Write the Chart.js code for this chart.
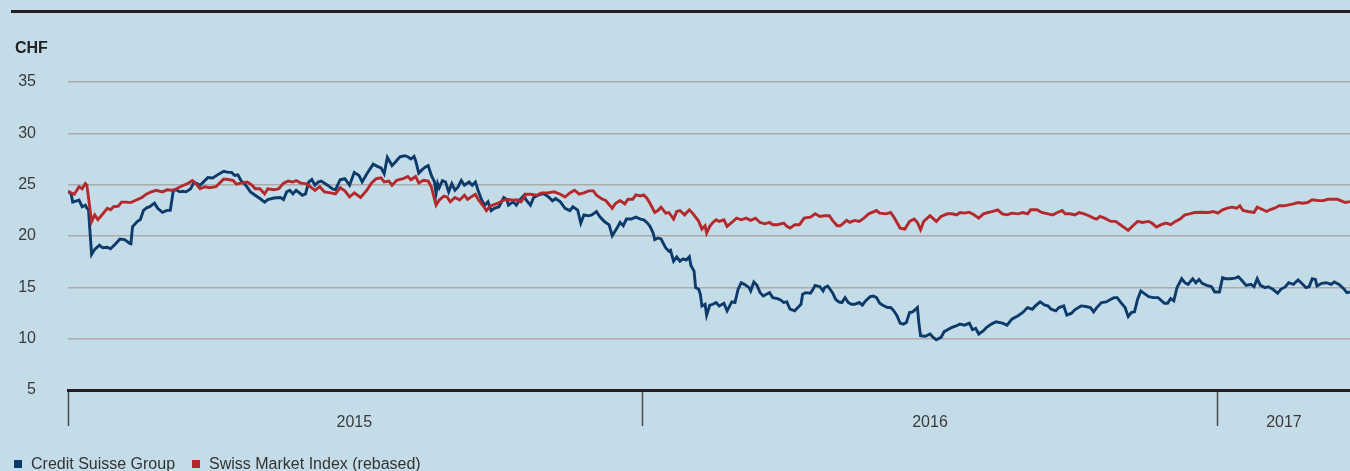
<!DOCTYPE html>
<html>
<head>
<meta charset="utf-8">
<script src="https://cdn.jsdelivr.net/npm/chart.js@4.4.1/dist/chart.umd.min.js"></script>
<style>
  html, body { margin: 0; padding: 0; background: #c4dce8; overflow: hidden; }
  #wrap { position: relative; width: 1350px; height: 471px; font-family: "Liberation Sans", Arial, sans-serif; color: #333; }
  #rule { position: absolute; left: 11px; right: 0; top: 10px; height: 3px; background: #231f20; }
  #unit { position: absolute; left: 15px; top: 40px; font-size: 16px; line-height: 16px; font-weight: bold; color: #222; }
  #box { position: absolute; left: 0; top: 0; width: 1350px; height: 471px; }
  #legend { position: absolute; left: 14px; top: 456px; display: flex; font-size: 16px; line-height: 16px; color: #333; }
  .item { display: flex; align-items: center; margin-right: 17px; }
  .swatch { width: 8px; height: 8px; margin-right: 9px; }
</style>
</head>
<body>
<div id="wrap">
  <div id="rule"></div>
  <div id="box"><canvas id="chart"></canvas></div>
  <div id="unit">CHF</div>
  <div id="legend"></div>
</div>
<script>
// ---------------------------------------------------------------
//  Share price: Credit Suisse vs SMI (rebased), Jan 2015 - Mar 2017
//  x values are days since 1 January 2015
// ---------------------------------------------------------------

const seriesNames = ['Credit Suisse Group', 'Swiss Market Index (rebased)'];
const seriesColors = ['#0c3b6b', '#b3292c'];

const yearLabels = ['2015', '2016', '2017'];
const yearStarts = [0, 365, 731];
const yearMids = [182, 548, 773];
const lastDay = 815;

const yTicks = [5, 10, 15, 20, 25, 30, 35];

const csDays = [
  0, 2, 3, 7, 9, 11, 12, 13, 15, 17,
  20, 22, 25, 27, 30, 33, 36, 39, 40, 41,
  44, 46, 48, 50, 52, 55, 57, 60, 63, 65,
  67, 69, 71, 73, 75, 78, 80, 82, 84, 86,
  89, 92, 96, 99, 102, 104, 106, 108, 110, 113,
  116, 119, 122, 125, 127, 131, 135, 137, 139, 141,
  143, 145, 149, 151, 153, 155, 157, 159, 161, 165,
  168, 170,
  173, 176, 179, 182, 185, 187, 190, 194, 197, 199,
  201, 203, 206, 208, 211, 214, 216, 218, 220, 221,
  223, 225, 227, 229, 231, 233, 234, 235, 236, 238,
  240, 242, 244, 246, 248, 250, 252, 255, 257, 259,
  261, 263, 265, 267, 269, 271, 274, 277, 279, 280,
  283, 285, 287, 290, 291, 294, 296, 299, 302, 305,
  308, 310, 313, 316, 319, 321, 324, 326, 328, 331,
  333, 336, 338, 341, 344, 346, 349,
  351, 353, 355, 358, 361, 364, 366, 368, 370, 372,
  373, 375, 377, 380, 382, 383, 385, 387, 389, 391,
  393, 395, 396, 398, 399, 401, 402, 403, 405, 406,
  408, 410, 412, 414, 417, 419, 422, 424, 426, 428,
  430, 433, 434, 436, 438, 440, 442, 444, 446, 448,
  451, 453, 455, 457, 459, 462, 464, 466, 467, 469,
  472, 473, 475, 478, 480, 481, 483, 486, 488, 490,
  492, 494, 496, 498, 500, 503, 505, 507, 510, 512,
  514, 516, 518, 521, 523, 525, 527,
  529, 531, 533, 535, 537, 540, 541, 542, 545, 548,
  550, 552, 555, 557, 560, 562, 565, 567, 570, 573,
  575, 577, 579, 582, 584, 587, 590, 594, 597, 600,
  604, 607, 610, 613, 615, 618, 621, 623, 625, 628,
  630, 633, 635, 638, 640, 644, 647, 650, 652, 654,
  657, 660, 663, 665, 667, 669, 672, 674, 676, 678,
  680, 682, 685, 687, 690, 693, 697, 699, 701, 703,
  705, 708, 710, 712, 715, 717, 719, 721, 724, 727,
  729, 732, 734, 736, 739, 742, 744, 746, 749, 752,
  754, 756, 758, 761, 763, 766, 769, 771, 774, 776,
  779, 782, 784, 787, 789, 791, 793, 794, 797, 800,
  803, 805, 808, 811, 813, 815
];
const csPrice = [
  24.36, 24.1, 23.3, 23.5, 22.85, 23.0, 22.7, 22.6, 18.2, 18.7,
  19.1, 18.85, 18.9, 18.75, 19.2, 19.7, 19.65, 19.3, 19.25, 20.9,
  21.4, 21.6, 22.5, 22.75, 22.85, 23.2, 22.7, 22.3, 22.5, 22.5,
  24.45, 24.5, 24.3, 24.35, 24.3, 24.6, 25.25, 25.1, 24.95, 25.25,
  25.7, 25.65, 26.05, 26.3, 26.2, 26.2, 25.9, 25.95, 25.4, 24.95,
  24.3, 23.97, 23.65, 23.3, 23.55, 23.7, 23.75, 23.55, 24.3, 24.45,
  24.1, 24.45, 23.97, 24.1, 25.25, 25.5, 24.95, 25.25, 25.35, 24.95,
  24.6, 24.5,
  25.48, 25.58, 24.94, 26.2, 25.9, 25.26, 26.06, 27.0, 26.76, 26.63,
  26.06, 27.66, 26.86, 27.18, 27.72, 27.82, 27.72, 27.5, 27.76, 27.34,
  26.12, 26.44, 26.7, 26.86, 25.9, 25.26, 24.13, 25.1, 24.7, 25.4,
  25.26, 24.3, 25.1, 24.46, 24.78, 25.42, 24.94, 25.26, 24.94, 25.26,
  24.3, 23.5, 23.0, 23.33, 22.47, 22.7, 22.85, 23.75, 23.56, 23.0,
  23.33, 23.0, 23.5, 23.97, 23.56, 23.0, 23.75, 23.97, 24.13, 23.88,
  23.43, 23.65, 23.33, 22.7, 22.47, 22.85, 22.53, 21.25, 22.05, 21.96,
  22.05, 22.37, 21.89, 21.41, 21.09, 20.03, 20.77,
  21.32, 21.0, 21.65, 21.65, 21.84, 21.65, 21.58, 21.32, 20.94, 20.29,
  19.65, 19.81, 19.71, 18.84, 18.52, 18.61, 17.55, 17.97, 17.55, 17.77,
  17.65, 17.97, 17.13, 16.58, 14.97, 14.81, 14.32, 13.19, 13.35, 12.29,
  13.26, 13.35, 13.52, 13.19, 13.45, 12.71, 13.58, 13.52, 14.81, 15.45,
  15.29, 14.97, 14.65, 15.52, 15.19, 14.48, 14.16, 14.32, 14.48, 14.0,
  13.9, 13.77, 13.52, 13.58, 12.87, 12.71, 13.03, 13.35, 14.32, 14.48,
  14.42, 14.65, 15.19, 15.06, 14.65, 14.97, 15.13, 14.48, 13.84, 13.58,
  13.52, 14.0, 13.52, 13.35, 13.35, 13.52, 13.26, 13.68, 14.1, 14.16,
  14.0, 13.45, 13.26, 13.03, 13.03, 12.71, 12.23,
  11.52, 11.42, 11.58, 12.55, 12.61, 13.03, 11.42, 10.29, 10.23, 10.45,
  10.13, 9.9, 10.13, 10.68, 10.94, 11.1, 11.26, 11.42, 11.32, 11.52,
  10.87, 11.0, 10.45, 10.77, 11.1, 11.42, 11.65, 11.52, 11.32, 11.9,
  12.23, 12.55, 13.03, 12.87, 13.19, 13.58, 13.26, 13.19, 12.87, 12.71,
  13.03, 13.19, 12.29, 12.48, 12.81, 13.19, 13.13, 13.03, 12.61, 13.03,
  13.52, 13.58, 13.84, 14.0, 14.0, 13.58, 13.03, 12.16, 12.55, 12.61,
  13.84, 14.65, 14.32, 14.1, 14.0, 14.0, 13.45, 13.45, 13.9, 13.68,
  14.97, 15.84, 15.45, 15.29, 15.84, 15.45, 15.77, 15.39, 15.19, 15.06,
  14.55, 14.55, 15.94, 15.84, 15.84, 15.9, 16.03, 15.71, 15.19, 15.29,
  15.06, 15.84, 15.19, 14.97, 15.06, 14.81, 14.42, 14.81, 15.06, 15.45,
  15.29, 15.71, 15.45, 14.97, 15.06, 15.84, 15.77, 15.13, 15.39, 15.45,
  15.29, 15.52, 15.29, 14.87, 14.48, 14.55
];

const smiDays = [
  0, 2, 4, 7, 9, 11, 12, 15, 17, 19,
  21, 25, 27, 29, 32, 34, 37, 40, 44, 47,
  50, 53, 56, 60, 63, 66, 69, 72, 76, 79,
  81, 84, 87, 90, 94, 97, 99, 102, 105, 107,
  110, 114, 117, 119, 122, 125, 127, 131, 134, 137,
  140, 143, 145, 148, 151, 154, 157, 160, 163, 167,
  170,
  173, 176, 179, 182, 186, 190, 193, 196, 199, 201,
  204, 206, 209, 213, 216, 218, 221, 223, 226, 229,
  231, 233, 234, 236, 239, 241, 243, 246, 249, 252,
  254, 257, 259, 261, 264, 266, 268, 270, 273, 277,
  280, 283, 286, 288, 291, 294, 298, 301, 305, 309,
  313, 316, 319, 322, 325, 328, 331, 334, 336, 339,
  342, 346, 348,
  351, 354, 356, 359, 361, 364, 366, 368, 370, 373,
  375, 377, 380, 382, 385, 387, 389, 392, 395, 397,
  399, 401, 403, 405, 406, 408, 410, 412, 414, 417,
  419, 422, 425, 428, 431, 434, 437, 440, 443, 446,
  448, 451, 455, 457, 459, 462, 465, 468, 472, 475,
  478, 481, 484, 486, 489, 491, 495, 497, 500, 503,
  506, 509, 514, 516, 520, 523, 525,
  529, 532, 535, 538, 540, 542, 544, 548, 552, 555,
  559, 562, 565, 567, 570, 573, 576, 579, 582, 585,
  588, 591, 594, 597, 600, 604, 607, 610, 612, 616,
  619, 623, 626, 629, 632, 634, 637, 640, 643, 646,
  649, 652, 654, 656, 659, 663, 666, 669, 672, 674,
  677, 680, 683, 687, 689, 692, 695, 698, 701, 704,
  707, 710, 713, 716, 721, 725, 728, 731, 734, 737,
  740, 743, 745, 747, 750, 754, 756, 759, 762, 764,
  767, 770, 773, 776, 779, 782, 785, 788, 791, 795,
  798, 801, 804, 807, 809, 812, 815
];
const smiLevel = [
  24.36, 24.2, 24.07, 24.8, 24.6, 25.1, 24.95, 21.4, 22.05, 21.6,
  21.95, 22.7, 22.55, 22.85, 22.9, 23.3, 23.3, 23.25, 23.55, 23.75,
  24.1, 24.3, 24.45, 24.3, 24.5, 24.45, 24.6, 24.85, 25.1, 25.4,
  25.15, 24.6, 24.8, 24.7, 24.8, 25.25, 25.55, 25.5, 25.4, 25.05,
  25.15, 25.25, 24.95, 24.6, 24.6, 24.1, 24.6, 24.5, 24.6, 25.15,
  25.35, 25.25, 25.4, 25.15, 25.1, 24.8, 24.45, 24.8, 24.3, 24.2,
  24.1,
  24.7, 24.4, 23.8, 24.2, 23.75, 24.46, 25.16, 25.58, 25.67, 25.26,
  25.35, 24.94, 25.42, 25.58, 25.8, 25.48, 25.8, 25.16, 25.42, 25.35,
  24.78, 23.56, 23.0, 23.5, 23.88, 23.8, 23.33, 23.75, 23.5, 23.97,
  23.56, 23.88, 24.07, 23.5, 22.92, 22.47, 22.85, 23.0, 23.17, 23.5,
  23.56, 23.5, 23.5, 23.33, 24.07, 24.07, 23.97, 24.2, 24.2, 24.3,
  24.07, 23.8, 24.2, 24.46, 24.07, 24.2, 24.4, 24.4, 23.97, 23.65,
  23.43, 22.7, 23.17,
  23.45, 23.13, 23.58, 23.58, 24.0, 23.9, 24.0, 23.68, 23.19, 22.29,
  22.48, 22.81, 22.23, 22.29, 21.65, 22.39, 22.48, 22.06, 22.55, 22.23,
  21.84, 21.42, 20.68, 21.0, 20.29, 20.94, 21.32, 21.58, 21.42, 21.58,
  20.94, 21.32, 21.74, 21.58, 21.74, 21.52, 21.74, 21.32, 21.19, 21.32,
  21.1, 21.1, 21.26, 20.94, 20.77, 21.1, 21.1, 21.74, 21.84, 22.16,
  21.9, 21.97, 21.97, 21.52, 21.0, 21.0, 21.52, 21.32, 21.52, 21.42,
  21.74, 22.16, 22.48, 22.23, 22.16, 22.29, 21.84,
  20.77, 20.68, 21.42, 21.65, 21.32, 20.61, 21.42, 21.97, 21.42, 21.9,
  22.16, 22.16, 22.06, 22.29, 22.23, 22.32, 22.06, 21.74, 22.16, 22.29,
  22.39, 22.55, 22.16, 22.06, 22.23, 22.16, 22.29, 22.16, 22.55, 22.55,
  22.29, 22.16, 22.06, 22.29, 22.48, 22.16, 22.16, 22.06, 22.29, 22.16,
  21.97, 21.74, 21.65, 21.9, 21.74, 21.42, 21.42, 21.1, 20.77, 20.55,
  21.0, 21.42, 21.32, 21.42, 21.26, 20.87, 21.1, 21.26, 21.1, 21.42,
  21.65, 22.06, 22.16, 22.29, 22.32, 22.29, 22.39, 22.23, 22.55, 22.71,
  22.81, 22.71, 22.94, 22.48, 22.39, 22.29, 22.81, 22.61, 22.39, 22.55,
  22.71, 22.94, 22.94, 23.03, 23.13, 23.26, 23.19, 23.26, 23.52, 23.45,
  23.45, 23.58, 23.58, 23.58, 23.45, 23.26, 23.35
];

// -----------------------------
// Legend (html)
// -----------------------------
const legend = document.getElementById('legend');
seriesNames.forEach((name, i) => {
  const item = document.createElement('span');
  item.className = 'item';
  item.innerHTML = `<span class="swatch" style="background:${seriesColors[i]}"></span>${name}`;
  legend.appendChild(item);
});

// -----------------------------
// Chart
// -----------------------------
const toPoints = (days, vals) => days.map((d, i) => ({x: d, y: vals[i]}));
const tickDays = [...yearStarts, ...yearMids].sort((a, b) => a - b);

Chart.defaults.font.family = '"Liberation Sans", Arial, sans-serif';
Chart.defaults.font.size = 16;
Chart.defaults.color = '#3a3a3a';

new Chart(document.getElementById('chart'), {
  type: 'line',
  data: {
    datasets: [
      {label: seriesNames[1], data: toPoints(smiDays, smiLevel), borderColor: seriesColors[1], borderWidth: 2.9},
      {label: seriesNames[0], data: toPoints(csDays, csPrice), borderColor: seriesColors[0], borderWidth: 2.9}
    ]
  },
  options: {
    responsive: true,
    maintainAspectRatio: false,
    animation: false,
    parsing: false,
    elements: {point: {radius: 0}, line: {tension: 0}},
    layout: {padding: {top: 82, right: 0, bottom: 41, left: 0}},
    plugins: {legend: {display: false}, tooltip: {enabled: false}},
    scales: {
      x: {
        type: 'linear',
        min: 0,
        max: lastDay,
        afterBuildTicks: s => { s.ticks = tickDays.map(v => ({value: v})); },
        afterFit: s => { s.height = 40; },
        grid: {
          drawOnChartArea: false,
          drawTicks: true,
          tickLength: 36,
          tickWidth: 1.5,
          tickColor: ctx => yearStarts.includes(ctx.tick && ctx.tick.value) ? '#4a4a4a' : 'rgba(0,0,0,0)'
        },
        border: {display: true, color: '#231f20', width: 3},
        ticks: {
          autoSkip: false,
          maxRotation: 0,
          padding: -13,
          callback: v => { const k = yearMids.indexOf(v); return k >= 0 ? yearLabels[k] : ''; }
        }
      },
      y: {
        min: yTicks[0],
        max: yTicks[yTicks.length - 1],
        afterBuildTicks: s => { s.ticks = yTicks.map(v => ({value: v})); },
        afterFit: s => { s.width = 68; },
        border: {display: false},
        grid: {
          drawTicks: false,
          lineWidth: 1.5,
          color: ctx => (ctx.tick && ctx.tick.value === yTicks[0]) ? 'rgba(0,0,0,0)' : '#ababab'
        },
        ticks: {padding: 32}
      }
    }
  }
});
</script>
</body>
</html>
